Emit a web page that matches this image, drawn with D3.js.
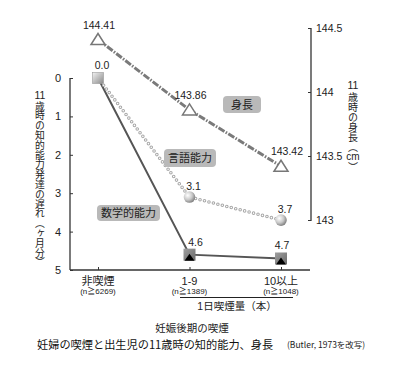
<!DOCTYPE html>
<html><head><meta charset="utf-8">
<script src="https://cdn.jsdelivr.net/npm/d3@7"></script>
<style>
body{margin:0;background:#fff;}
svg{display:block;font-family:"Liberation Sans","Noto Sans CJK JP",sans-serif;}
</style></head>
<body><div id="chart"></div>
<script>
const categories = ["非喫煙", "1-9", "10以上"];
const sampleSizes = ["(n≧6269)", "(n≧1389)", "(n≧1048)"];
const heightValues = [144.41, 143.86, 143.42];
const verbalDelay = [0.0, 3.1, 3.7];
const mathDelay = [0.0, 4.6, 4.7];
const leftTicks = [0, 1, 2, 3, 4, 5];
const rightTicks = [143, 143.5, 144, 144.5];
const seriesNames = {height: "身長", verbal: "言語能力", math: "数学的能力"};

const W = 403, H = 369;
const svg = d3.select("#chart").append("svg").attr("width", W).attr("height", H);
const defs = svg.append("defs");
const rg = defs.append("radialGradient").attr("id","sph").attr("cx","35%").attr("cy","35%").attr("r","65%");
rg.append("stop").attr("offset","0%").attr("stop-color","#ffffff");
rg.append("stop").attr("offset","60%").attr("stop-color","#c8c8c8");
rg.append("stop").attr("offset","100%").attr("stop-color","#888");
const lg = defs.append("linearGradient").attr("id","sq").attr("x1","0").attr("y1","0").attr("x2","1").attr("y2","1");
lg.append("stop").attr("offset","0%").attr("stop-color","#f2f2f2");
lg.append("stop").attr("offset","100%").attr("stop-color","#8a8a8a");
const lg2 = defs.append("linearGradient").attr("id","sq2").attr("x1","0").attr("y1","0").attr("x2","1").attr("y2","1");
lg2.append("stop").attr("offset","0%").attr("stop-color","#a0a0a0");
lg2.append("stop").attr("offset","100%").attr("stop-color","#6a6a6a");

const x = d3.scalePoint().domain(categories).range([98, 281]);
const yL = d3.scaleLinear().domain([0, 5]).range([78, 270]);
const yR = d3.scaleLinear().domain([143, 144.5]).range([220, 28]);

// axes
const leftAxis = svg.append("g").attr("transform","translate(70,0)")
  .call(d3.axisRight(yL).tickValues(leftTicks).tickSize(3).tickFormat(d3.format("d")));
leftAxis.select(".domain").attr("stroke","#333").attr("stroke-width",1.3).attr("d","M0,78V270");
leftAxis.selectAll(".tick line").attr("stroke","#333");
leftAxis.selectAll(".tick text").attr("x",-12).attr("text-anchor","middle").attr("font-size",11).attr("fill","#222").attr("font-family","Liberation Sans");

const rightAxis = svg.append("g").attr("transform","translate(311,0)")
  .call(d3.axisLeft(yR).tickValues(rightTicks).tickSize(3).tickFormat(d => String(d)));
rightAxis.select(".domain").attr("stroke","#333").attr("stroke-width",1.3).attr("d","M0,28V221");
rightAxis.selectAll(".tick line").attr("stroke","#333");
rightAxis.selectAll(".tick text").attr("x",5).attr("text-anchor","start").attr("font-size",10.5).attr("fill","#222").attr("font-family","Liberation Sans");

const bottomAxis = svg.append("g").attr("transform","translate(0,270)")
  .call(d3.axisTop(x).tickSize(3).tickFormat(""));
bottomAxis.select(".domain").attr("stroke","#333").attr("stroke-width",1.3).attr("d","M70,0H310");
bottomAxis.selectAll(".tick line").attr("stroke","#333");

// x labels
categories.forEach((c,i)=>{
  svg.append("text").attr("x",x(c)).attr("y",285).attr("text-anchor","middle")
    .attr("font-size",11).attr("fill","#222").text(c);
  svg.append("text").attr("x",x(c)).attr("y",294).attr("text-anchor","middle")
    .attr("font-size",8).attr("fill","#222").text(sampleSizes[i]);
});
svg.append("line").attr("x1",180).attr("x2",293).attr("y1",297.5).attr("y2",297.5).attr("stroke","#222").attr("stroke-width",1.2);
svg.append("text").attr("x",237).attr("y",310).attr("text-anchor","middle").attr("font-size",10.5).attr("fill","#222").text("1日喫煙量（本）");

// axis titles (vertical)
function vtext(cx, top, txt, fs){
  return svg.append("text").attr("x",cx).attr("y",top).attr("font-size",fs).attr("fill","#222")
    .attr("font-family","Noto Sans CJK JP")
    .style("writing-mode","vertical-rl").text(txt);
}
function htext(cx, y, txt, fs){
  return svg.append("text").attr("x",cx).attr("y",y).attr("text-anchor","middle").attr("font-size",fs)
    .attr("fill","#222").attr("font-family","Liberation Sans").text(txt);
}
htext(40, 99, "11", 10.5);
vtext(40, 101, "歳時の知的能力発達の遅れ（ヶ月分）", 9.8);
htext(353, 89, "11", 10.5);
vtext(353, 92, "歳時の身長（", 10);
htext(353, 160, "cm", 10);
vtext(353, 162, "）", 10);

// height line
const lineH = d3.line().x((d,i)=>x(categories[i])).y(d=>yR(d));
svg.append("path").attr("d",lineH(heightValues)).attr("fill","none").attr("stroke","#7a7a7a")
  .attr("stroke-width",3).attr("stroke-dasharray","7,1.5,1.5,1.5");

// math line
const lineL = d3.line().x((d,i)=>x(categories[i])).y(d=>yL(d));
svg.append("path").attr("d",lineL(mathDelay)).attr("fill","none").attr("stroke","#555").attr("stroke-width",2);

// verbal line (chain of small rings)
svg.append("path").attr("d",lineL(verbalDelay)).attr("fill","none").attr("stroke","#a8a8a8")
  .attr("stroke-width",3.6).attr("stroke-linecap","round").attr("stroke-dasharray","0,4.6");
svg.append("path").attr("d",lineL(verbalDelay)).attr("fill","none").attr("stroke","#fff")
  .attr("stroke-width",1.6).attr("stroke-linecap","round").attr("stroke-dasharray","0,4.6");

// markers: height triangles
heightValues.forEach((v,i)=>{
  const cx = x(categories[i]), cy = yR(v);
  svg.append("path").attr("d",`M${cx},${cy-6}L${cx+7},${cy+5}L${cx-7},${cy+5}Z`)
    .attr("fill","#fff").attr("stroke","#777").attr("stroke-width",1.5);
  svg.append("text").attr("x",cx+(i===2?6:1)).attr("y",cy-11).attr("text-anchor","middle")
    .attr("font-size",10.5).attr("fill","#222").text(v.toFixed(2));
});

// verbal spheres
verbalDelay.forEach((v,i)=>{
  if(i===0) return;
  const cx = x(categories[i]), cy = yL(v);
  svg.append("circle").attr("cx",cx).attr("cy",cy).attr("r",5.8).attr("fill","url(#sph)");
  svg.append("text").attr("x",cx+4).attr("y",cy-7).attr("text-anchor","middle")
    .attr("font-size",10.5).attr("fill","#222").text(v.toFixed(1));
});

// math squares
mathDelay.forEach((v,i)=>{
  const cx = x(categories[i]), cy = yL(v);
  if(i===0){
    svg.append("rect").attr("x",cx-5.5).attr("y",cy-5.5).attr("width",11).attr("height",11)
      .attr("fill","url(#sq)").attr("stroke","#999").attr("stroke-width",0.6);
    svg.append("text").attr("x",cx+4).attr("y",cy-9).attr("text-anchor","middle")
      .attr("font-size",10.5).attr("fill","#222").text(v.toFixed(1));
    return;
  }
  svg.append("rect").attr("x",cx-6).attr("y",cy-6).attr("width",12).attr("height",12)
    .attr("fill","url(#sq2)");
  svg.append("path").attr("d",`M${cx},${cy-1}L${cx+5},${cy+6}L${cx-5},${cy+6}Z`).attr("fill","#000");
  svg.append("text").attr("x",cx+(i===1?6:1)).attr("y",cy-9).attr("text-anchor","middle")
    .attr("font-size",10.5).attr("fill","#222").text(v.toFixed(1));
});

// series label boxes
function labelBox(cx, cy, w, h, txt){
  svg.append("rect").attr("x",cx-w/2).attr("y",cy-h/2).attr("width",w).attr("height",h)
    .attr("rx",4).attr("fill","#b9b9b9");
  svg.append("text").attr("x",cx).attr("y",cy+4).attr("text-anchor","middle")
    .attr("font-size",11).attr("fill","#222").attr("font-family","Noto Sans CJK JP").text(txt);
}
labelBox(242, 104.5, 38, 17, seriesNames.height);
labelBox(190, 158, 52, 18, seriesNames.verbal);
labelBox(128.5, 213, 63, 16, seriesNames.math);

// bottom titles
svg.append("text").attr("x",192).attr("y",332).attr("text-anchor","middle")
  .attr("font-size",10.5).attr("fill","#222").attr("font-family","Noto Sans CJK JP").text("妊娠後期の喫煙");
svg.append("text").attr("x",37).attr("y",349).attr("font-size",11.2).attr("fill","#111")
  .attr("font-family","Noto Sans CJK JP").text("妊婦の喫煙と出生児の11歳時の知的能力、身長");
svg.append("text").attr("x",287).attr("y",348).attr("font-size",8.5).attr("fill","#222")
  .attr("font-family","Noto Sans CJK JP").text("(Butler, 1973を改写)");
</script>
</body></html>
